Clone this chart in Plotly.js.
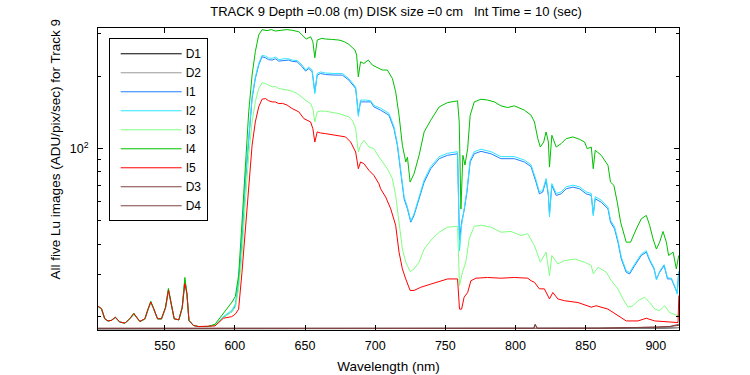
<!DOCTYPE html>
<html>
<head>
<meta charset="utf-8">
<script src="https://cdn.plot.ly/plotly-3.0.1.min.js"></script>
<style>html,body{margin:0;padding:0;background:#fff;}#chart{width:750px;height:375px;}</style>
</head>
<body>
<div id="chart"></div>
<script>
// ---- Data ----
// Shared short-wavelength region (500-586 nm)
const wlLow = [502.5,505,507.3,509.6,512,514.9,518,521.6,525.1,528,532.3,535.9,538.2,540.1,541.8,544.9,547.7,550.6,552.7,554.4,556.8,560.1,562.5,564.4,565.9,567.3,570.4,573.9,581,585.9];
const i4Low  = [22.1,21.6,19.6,19.2,19.3,19.9,19.0,18.8,19.6,20.7,19.1,19.6,21.6,23.2,21.9,19.6,19.6,21.9,26.2,23.4,19.6,19.4,21.9,29.1,24.9,19.3,18.4,18.2,18.2,18.6];
const iMidLow = [22.0,21.5,19.6,19.2,19.3,19.8,19.0,18.8,19.5,20.5,19.1,19.5,21.4,22.9,21.8,19.6,19.5,21.7,25.7,23.2,19.6,19.4,21.7,28.3,24.6,19.3,18.4,18.2,18.2,18.5];
const i5Low  = [22.1,21.6,19.6,19.2,19.3,19.9,19.0,18.8,19.6,20.6,19.1,19.6,21.5,23.0,21.9,19.6,19.6,21.8,25.8,23.3,19.6,19.4,21.8,27.5,24.9,19.3,18.4,18.2,18.2,18.3];

// I4 (green)
const wlI4 = [591.8,596,598,600.4,602.7,605.1,607.5,609.9,612.3,614.6,617,619.4,623,626,628.9,633,637,640.9,645.6,649.2,650.9,654,655.6,657,658.7,662,664.6,669,674.2,678,681.3,685.6,686.8,688,689.6,692,695.1,698,702.7,705,708.7,712.3,714.6,717,719.4,721.8,723,724.9,727.7,731.3,734.9,739.6,745.6,751.6,758.7,759.9,761.1,762.5,764,765.9,767.7,770.6,775.4,780,784.9,789.6,794.4,799.2,806.3,811.1,813.5,815.9,817.7,820.1,821.8,823.4,824.2,825.9,829,832.5,836.1,840.9,845.6,849.2,851.1,854,855.4,856.8,861.1,865.9,867.7,870.1,872.5,874.9,878.9,882,886.1,889.6,893.2,895.6,898,900.4,902.7,905.1,907.5,909.1,912.3,914.6,916.3];
const valI4 = [20.6,22.0,23.0,24.3,29.7,49.4,87.9,142.0,201.8,252.5,296.2,311.7,309,312,307.8,310,312,310,305.7,291.4,285.1,291.4,277.8,238.3,282.3,287,285.1,284,282.3,278,270.7,256.6,244.5,198.6,229.3,225.6,233.1,222.2,215.0,212,211.8,195.3,172.0,137.5,103.1,87.9,92,72.5,78.5,93.7,117.2,131.1,148.9,155.2,157.7,128.9,56,93.7,85.4,99.8,137.5,156.2,160.3,159,156.2,150.4,148,150.4,144.3,137.5,128.9,109.9,101.4,106.4,117.2,106.4,83.7,113.5,101.4,104.7,109.9,111.7,109.2,106.4,99.8,101.4,82.4,98.3,93.7,85.1,72.5,70.3,59.8,49.4,40.8,40.8,46.3,51.0,52.7,47.9,42.1,38.2,40.8,45.2,40.8,35.9,37.1,31.6,35.9];

// I1 (blue) and I2 (cyan) share wavelengths
const wlI12 = [591.8,598,600.4,602.7,605.1,607.5,609.9,612.3,614.6,617,619.4,621.8,624,626.6,629,631.3,635,638.4,641,644.4,648,650.4,652.7,655.1,657,658.7,661,664.6,670,676.6,681.3,686.1,688,689.6,693.2,696.8,699.1,703.9,709.8,713.4,715.8,718.2,720.6,723,725.4,727.7,731.3,734.9,739.6,745.6,751.6,758.7,760.1,761.6,763.4,765.4,767.7,770.6,775.4,782.5,789.6,799.2,806.3,811.1,814.6,817,819.4,821.8,823.4,824.2,825.9,829,832.5,836.1,840.9,845.6,850.4,854,855.4,856.8,861.1,865.9,867.7,870.6,873,875.4,878.9,881.3,884.9,889.6,893.2,895.6,898.7,900.4,902.7,905.9,908.3,911.1,914,915.2,916.3];
const valI1 = [19.9,21.0,22.2,27.8,42.1,72.5,113.5,161.3,195.3,222.2,240.6,238.3,234,233.1,236,230.8,232,233.1,230,229.3,218.6,209.8,215.0,208.4,172.0,201.8,205,203.0,202,201.8,192.4,177.5,139.6,156.2,156.2,156.2,148.9,144.3,137.5,120.9,103.1,79.8,61.8,56.1,49.4,52.7,61.8,72.5,82.4,90.7,93.7,95.1,41.6,49.4,55.3,65.9,87.9,95.1,97.3,95.1,90.7,90.7,87.9,84,72.5,64.8,65.9,73.7,63.8,53.5,70.3,63.8,64.8,68.0,69.1,68.0,64.8,63.8,53.5,61.8,59.8,56.1,49.4,46.3,40.8,34.7,30.6,30.1,32.6,35.9,37.1,34.2,31.6,28.7,30.6,32.6,28.7,28.7,26.1,25.2,30.6];
const valI2 = [20.0,21.3,22.6,28.5,43.5,74.8,116,164,198,225,244,242,238,237,240,234,236,236,233,232,222,212,218,212,169,205,208,206,205,205,195,180,136,159,159,158,151,147,140,123,105,81,63,57,50,53.5,63,74,84,92.5,95.5,97,37.5,48,56,67,89.5,97,99.3,97,92.5,92.5,89.5,85.5,74,66,67,75,65,52,71.5,65,66,69.3,70.4,69.3,66,65,52.5,63,61,57,50.3,47.2,41.6,35.3,31.1,30.5,33.1,36.4,37.6,34.6,31.9,28.4,30.9,32.9,29,28.9,26.3,24.8,30.9];

// I3 (light green)
const wlI3 = [591.8,598,600.4,602.7,605.1,607.5,609.9,612.3,614.6,617,619.4,621.8,624,626.6,629,631.3,635,638.4,641,644.4,647,650.4,654,655.6,657,658.7,661,664.6,670,674.2,681.3,684,686.1,688,689.6,692,695.6,699.1,702.7,705,708.7,712.3,714.6,717,719.4,721.8,724.9,727.7,731.3,734.9,739.6,745.6,751.6,758.7,760.1,762.2,764.6,767,770.6,775.4,782.5,789.6,796.8,803.9,808.7,813.5,817.7,821.8,824.2,825.9,830.2,834.9,842.1,849.2,854,855.4,858.8,864.7,868.3,873,876.6,880.2,883.7,887.3,892,895.6,899.2,902.7,906.3,909.8,915.8,916.3];
const valI3 = [19.8,21.0,21.9,26.1,35.9,59.8,93.7,128.9,156.2,177.5,187.5,186.2,183,180.4,181,177.5,176,174.8,173,169.2,164,158.8,153.7,146.5,128.9,142.0,143,142.9,141,139.6,135.3,130,120.9,96.7,103.1,108.2,101.4,99.8,92.2,88,82.4,74.8,63.8,49.4,38.2,33.7,30.8,31.6,33.7,38.2,41.5,44.9,47.1,47.5,26.9,30.6,33.7,42.1,47.5,48.0,47.1,44.9,45.2,43.5,44.2,39.5,33.7,37.1,29.6,35.9,33.1,34.2,34.7,33.7,32.6,30.1,32.1,30.6,28.2,26.1,23.7,21.9,22.2,23.3,24.1,22.9,21.5,21.2,22.2,20.8,20.2,20.6];

// I5 (red)
const wlI5 = [591.8,597.7,600.4,602.7,605.1,607.5,609.9,612.3,614.6,617,619.4,621.8,624,626.6,629,631.3,634,637.3,640.9,645.6,649.2,651.6,654,655.6,657,658.7,661,664.6,671.8,678.9,682.5,686.1,688,689.6,692,695.6,699.1,702.7,703.9,707.5,711.1,714.6,717,719.4,721.8,724.9,727.7,732.5,739.6,746.8,751.6,758.7,760.1,761.6,763.4,765.9,768.2,771.8,780.1,789.6,799.2,808.7,811.1,813.5,814.6,817,820.6,824.2,826.6,830.2,834.9,844.5,854,857.5,865.9,873,878.9,887.3,893.2,899.2,906.3,915.8,916.4];
const valI5 = [19.7,20.0,20.5,21.5,30.6,46.3,72.5,103.1,128.9,148.9,160.3,161.3,158,156.2,156,153.7,154,151.4,146.5,142.0,133.1,131.1,128.9,120.9,106.4,117.2,116,115.3,113.5,111.7,106.4,96.7,82.4,87.9,86.5,81.1,77.3,71.3,68.0,62.8,56.1,47.9,37.1,31.6,28.7,25.7,25.7,26.5,27.3,28.2,28.7,28.7,21.5,21.5,24.1,25.2,28.2,28.9,29.1,28.9,29.1,28.9,28.2,27.8,27.3,26.1,26.1,23.7,25.2,23.7,23.3,22.9,21.9,22.2,21.5,20.2,19.2,19.2,19.7,19.2,19.1,18.9,24.5];

// Dark frames
const wlD = [502.5,560,620,700,760,813,814,815.5,860,880,900,910,916.4];
const valD1 = [17.8,17.8,17.8,17.8,17.8,17.8,17.8,17.8,17.8,17.85,17.9,17.95,18.0];
const valD2 = [17.82,17.82,17.82,17.82,17.82,17.82,17.9,17.82,17.82,17.86,17.92,17.98,18.05];
const valD3 = [17.9,17.9,17.9,17.9,17.9,17.9,18.6,17.9,17.9,17.95,18.1,18.2,18.4];
const valD4 = [17.88,17.9,17.88,17.9,17.88,17.9,18.5,17.9,17.92,17.95,18.08,18.2,18.6];

const seriesNames = ['D1','D2','I1','I2','I3','I4','I5','D3','D4'];
const seriesColors = ['#000000','#999999','#1f7fff','#2ee6ff','#80ff80','#00c000','#ff0000','#804040','#804040'];

const xTicks = [550,600,650,700,750,800,850,900];
const yTickVals = [100];
const yTickText = ['10<sup>2</sup>'];
const yMinorVals = [20,30,40,50,60,70,80,90,200,300];

// ---- Build traces ----
const xs = [wlD, wlD, wlLow.concat(wlI12), wlLow.concat(wlI12), wlLow.concat(wlI3), wlLow.concat(wlI4), wlLow.concat(wlI5), wlD, wlD];
const ys = [valD1, valD2, iMidLow.concat(valI1), iMidLow.concat(valI2), iMidLow.concat(valI3), i4Low.concat(valI4), i5Low.concat(valI5), valD3, valD4];

const FONT = 'Liberation Sans, Arial, Helvetica, sans-serif';
const traces = seriesNames.map((n, i) => ({
  type: 'scatter', mode: 'lines', name: n,
  x: xs[i], y: ys[i],
  line: {color: seriesColors[i], width: 1},
  hoverinfo: 'skip'
}));

const layout = {
  width: 750, height: 375,
  margin: {l: 98, r: 71, t: 28, b: 45, pad: 0},
  paper_bgcolor: '#ffffff', plot_bgcolor: '#ffffff',
  font: {family: FONT, size: 13, color: '#000'},
  title: {
    text: 'TRACK 9 Depth =0.08 (m) DISK size =0 cm&nbsp;&nbsp; Int Time = 10 (sec)',
    font: {family: FONT, size: 13, color: '#000'},
    x: 0.513, xref: 'paper', xanchor: 'center',
    y: 0.969, yref: 'container', yanchor: 'middle'
  },
  xaxis: {
    range: [502.5, 916.5], tickmode: 'array', tickvals: xTicks,
    ticks: 'inside', ticklen: 5, tickcolor: '#000', tickwidth: 1,
    showline: true, linecolor: '#000', linewidth: 1, mirror: 'ticks',
    showgrid: false, zeroline: false, ticklabelstandoff: 4,
    tickfont: {family: FONT, size: 12.5, color: '#000'},
    title: {text: 'Wavelength (nm)', font: {family: FONT, size: 13.5, color: '#000'}, standoff: 9}
  },
  yaxis: {
    type: 'log', range: [1.2456, 2.5008],
    tickmode: 'array', tickvals: yTickVals, ticktext: yTickText,
    ticks: 'inside', ticklen: 5, tickcolor: '#000', tickwidth: 1,
    minor: {tickmode: 'array', tickvals: yMinorVals, ticks: 'inside', ticklen: 3, tickcolor: '#000', tickwidth: 1, showgrid: false},
    showline: true, linecolor: '#000', linewidth: 1, mirror: 'ticks',
    showgrid: false, zeroline: false, ticklabelstandoff: 6,
    tickfont: {family: FONT, size: 12.5, color: '#000'}
  },
  showlegend: true,
  legend: {
    x: 0.0184, y: 0.966, xanchor: 'left', yanchor: 'top',
    bgcolor: '#ffffff', bordercolor: '#000', borderwidth: 1,
    font: {family: FONT, size: 12, color: '#000'},
    itemwidth: 66, tracegroupgap: 0, traceorder: 'normal'
  },
  annotations: [{
    text: 'All five Lu images (ADU/pix/sec) for Track 9',
    xref: 'paper', yref: 'paper', x: -0.074, y: 0.598,
    xanchor: 'center', yanchor: 'middle', textangle: -90, showarrow: false,
    font: {family: FONT, size: 13.5, color: '#000'}
  }]
};

Plotly.newPlot('chart', traces, layout, {staticPlot: true, displayModeBar: false}).then(() => {
  document.querySelectorAll('.legend .legendlines path').forEach(p => {
    p.setAttribute('d', 'M11,0h61');
  });
});
</script>
</body>
</html>
